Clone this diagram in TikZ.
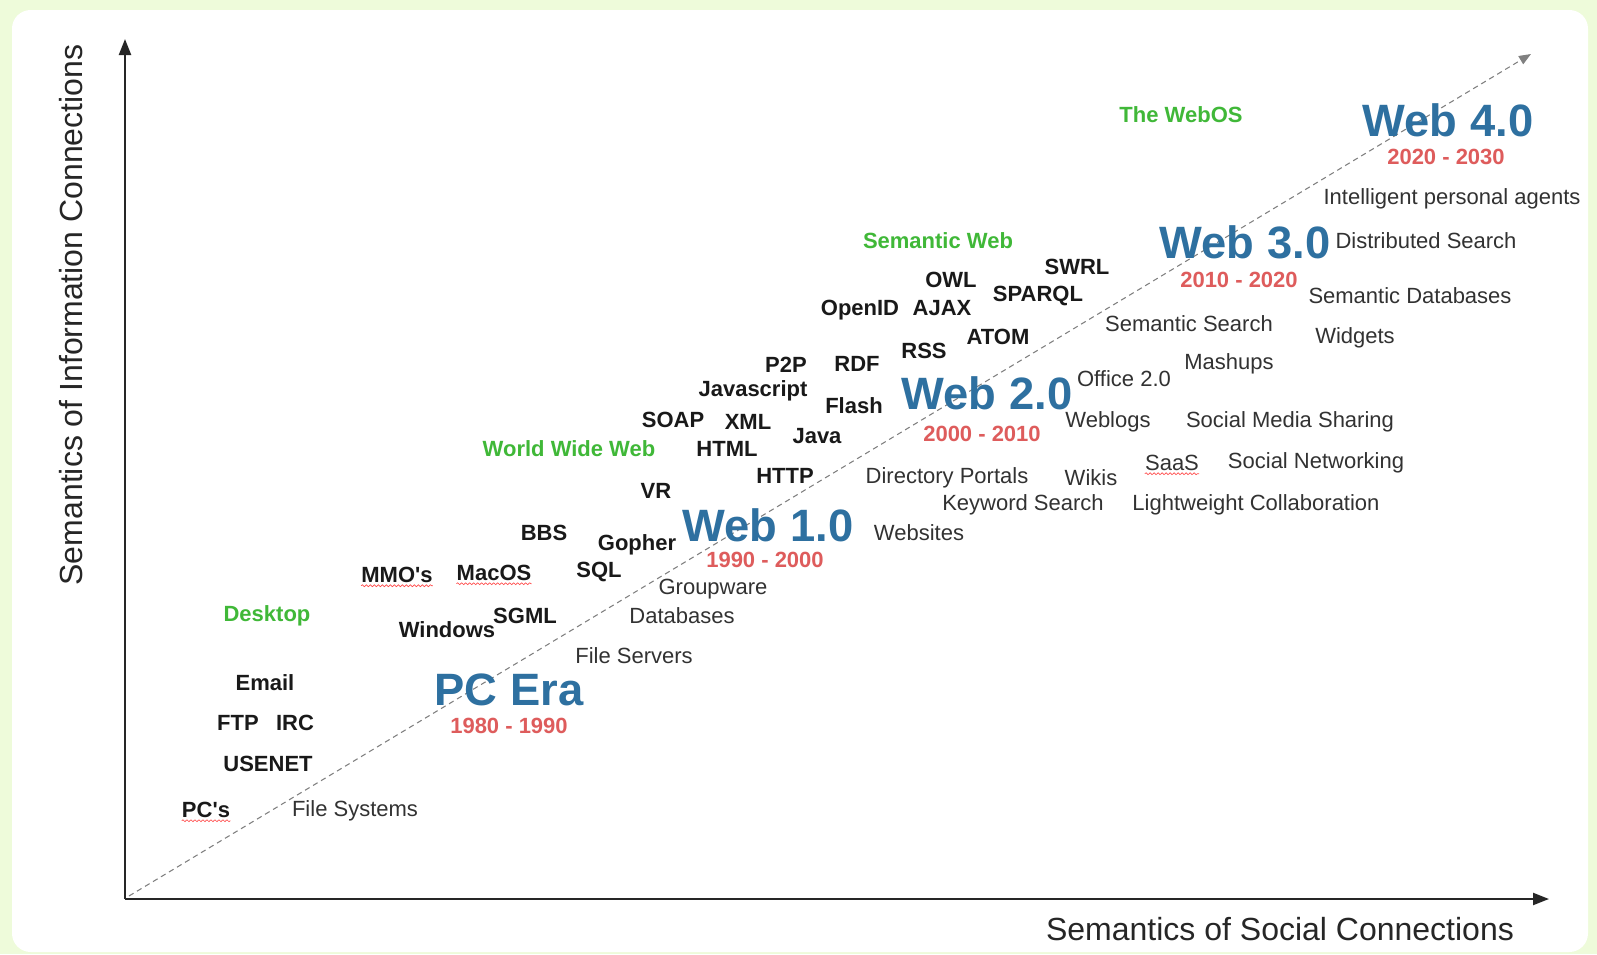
\documentclass[tikz,border=0pt]{standalone}
\usepackage{fontspec}
\setmainfont{Liberation Sans}
\usepackage{tikz}
\usetikzlibrary{arrows.meta}
\usetikzlibrary{decorations.pathmorphing}
\pgfdeclarelayer{bglayer}
\pgfdeclarelayer{edgelayer}
\pgfdeclarelayer{nodelayer}
\pgfsetlayers{bglayer,edgelayer,nodelayer,main}
\definecolor{paper}{RGB}{238,251,218}
\definecolor{erablue}{RGB}{46,112,160}
\definecolor{yearred}{RGB}{222,92,92}
\definecolor{fieldgreen}{RGB}{64,184,56}
\definecolor{appgray}{RGB}{50,50,50}
\tikzset{
  tech/.style={inner sep=0pt, font=\fontsize{16.5}{18}\selectfont\bfseries, text=black!90},
  app/.style={inner sep=0pt, font=\fontsize{16.5}{18}\selectfont, text=appgray},
  field/.style={inner sep=0pt, font=\fontsize{16.5}{18}\selectfont\bfseries, text=fieldgreen},
  era/.style={inner sep=0pt, font=\fontsize{34}{38}\selectfont\bfseries, text=erablue},
  yearspan/.style={inner sep=0pt, font=\fontsize{16.5}{18}\selectfont\bfseries, text=yearred},
  axislabel/.style={inner sep=0pt, font=\fontsize{24}{28}\selectfont, text=black!85},
  axisline/.style={line width=1.6pt, black!85, -{Triangle[length=12pt,width=9pt]}},
  trend/.style={gray, line width=0.8pt, dash pattern=on 4pt off 3pt, -{Triangle[length=9pt,width=7pt]}},
  spellmark/.style={red!70, line width=0.5pt, decorate, decoration={snake, amplitude=0.7pt, segment length=3pt}}
}
\begin{document}
\begin{tikzpicture}[x=0.75pt,y=-0.75pt]
\useasboundingbox (0,0) rectangle (1597,954);
\begin{pgfonlayer}{bglayer}
	\fill[paper] (0,0) rectangle (1597,954);
	\fill[white, rounded corners=14pt] (12,10) rectangle (1588,952);
\end{pgfonlayer}
\begin{pgfonlayer}{nodelayer}
	% axes
	\coordinate (o) at (125,899);
	\coordinate (ytip) at (125,39);
	\coordinate (xtip) at (1549,899);
	\coordinate (d0) at (129,896);
	\coordinate (d1) at (1531,54);
	\node[axislabel, rotate=90] (yl) at (71,315) {Semantics of Information Connections};
	\node[axislabel] (xl) at (1280,929) {Semantics of Social Connections};
	% eras
	\node[era] (e0) at (509,690) {PC Era};
	\node[yearspan] (y0) at (509,726) {1980 - 1990};
	\node[era] (e1) at (768,525) {Web 1.0};
	\node[yearspan] (y1) at (765,560) {1990 - 2000};
	\node[era] (e2) at (987,393) {Web 2.0};
	\node[yearspan] (y2) at (982,434) {2000 - 2010};
	\node[era] (e3) at (1245,242) {Web 3.0};
	\node[yearspan] (y3) at (1239,280) {2010 - 2020};
	\node[era] (e4) at (1448,120) {Web 4.0};
	\node[yearspan] (y4) at (1446,157) {2020 - 2030};
	% fields
	\node[field] (f0) at (267,616) {Desktop};
	\node[field] (f1) at (569,449) {World Wide Web};
	\node[field] (f2) at (938,241) {Semantic Web};
	\node[field] (f3) at (1181,115) {The WebOS};
	% technologies
	\node[tech] (0) at (206,810) {PC\textquotesingle s};
	\node[tech] (1) at (268,764) {USENET};
	\node[tech] (2) at (238,723) {FTP};
	\node[tech] (3) at (295,723) {IRC};
	\node[tech] (4) at (265,683) {Email};
	\node[tech] (5) at (447,630) {Windows};
	\node[tech] (6) at (525,616) {SGML};
	\node[tech] (7) at (397,575) {MMO\textquotesingle s};
	\node[tech] (8) at (494,573) {MacOS};
	\node[tech] (9) at (599,572) {SQL};
	\node[tech] (10) at (544,533) {BBS};
	\node[tech] (11) at (637,545) {Gopher};
	\node[tech] (12) at (656,491) {VR};
	\node[tech] (13) at (785,476) {HTTP};
	\node[tech] (14) at (727,449) {HTML};
	\node[tech] (15) at (673,420) {SOAP};
	\node[tech] (16) at (748,422) {XML};
	\node[tech] (17) at (817,436) {Java};
	\node[tech] (18) at (753,391) {Javascript};
	\node[tech] (19) at (854,406) {Flash};
	\node[tech] (20) at (786,365) {P2P};
	\node[tech] (21) at (857,364) {RDF};
	\node[tech] (22) at (924,351) {RSS};
	\node[tech] (23) at (998,337) {ATOM};
	\node[tech] (24) at (860,310) {OpenID};
	\node[tech] (25) at (942,308) {AJAX};
	\node[tech] (26) at (951,280) {OWL};
	\node[tech] (27) at (1038,296) {SPARQL};
	\node[tech] (28) at (1077,267) {SWRL};
	% applications
	\node[app] (30) at (355,811) {File Systems};
	\node[app] (31) at (634,656) {File Servers};
	\node[app] (32) at (682,616) {Databases};
	\node[app] (33) at (713,589) {Groupware};
	\node[app] (34) at (919,533) {Websites};
	\node[app] (35) at (1023,505) {Keyword Search};
	\node[app] (36) at (947,478) {Directory Portals};
	\node[app] (37) at (1091,478) {Wikis};
	\node[app] (38) at (1108,422) {Weblogs};
	\node[app] (39) at (1124,379) {Office 2.0};
	\node[app] (40) at (1256,505) {Lightweight Collaboration};
	\node[app] (41) at (1172,463) {SaaS};
	\node[app] (42) at (1316,463) {Social Networking};
	\node[app] (43) at (1290,422) {Social Media Sharing};
	\node[app] (44) at (1229,364) {Mashups};
	\node[app] (45) at (1189,324) {Semantic Search};
	\node[app] (46) at (1355,338) {Widgets};
	\node[app] (47) at (1410,296) {Semantic Databases};
	\node[app] (48) at (1426,241) {Distributed Search};
	\node[app] (49) at (1452,199) {Intelligent personal agents};
\end{pgfonlayer}
\begin{pgfonlayer}{edgelayer}
	\draw[axisline] (o) to (ytip);
	\draw[axisline] (o) to (xtip);
	\draw[trend] (d0) to (d1);
	\draw[spellmark] ([yshift=-2pt]0.south west) to ([yshift=-2pt]0.south east);
	\draw[spellmark] ([yshift=-2pt]7.south west) to ([yshift=-2pt]7.south east);
	\draw[spellmark] ([yshift=-2pt]8.south west) to ([yshift=-2pt]8.south east);
	\draw[spellmark] ([yshift=-2pt]41.south west) to ([yshift=-2pt]41.south east);
\end{pgfonlayer}
\end{tikzpicture}
\end{document}
